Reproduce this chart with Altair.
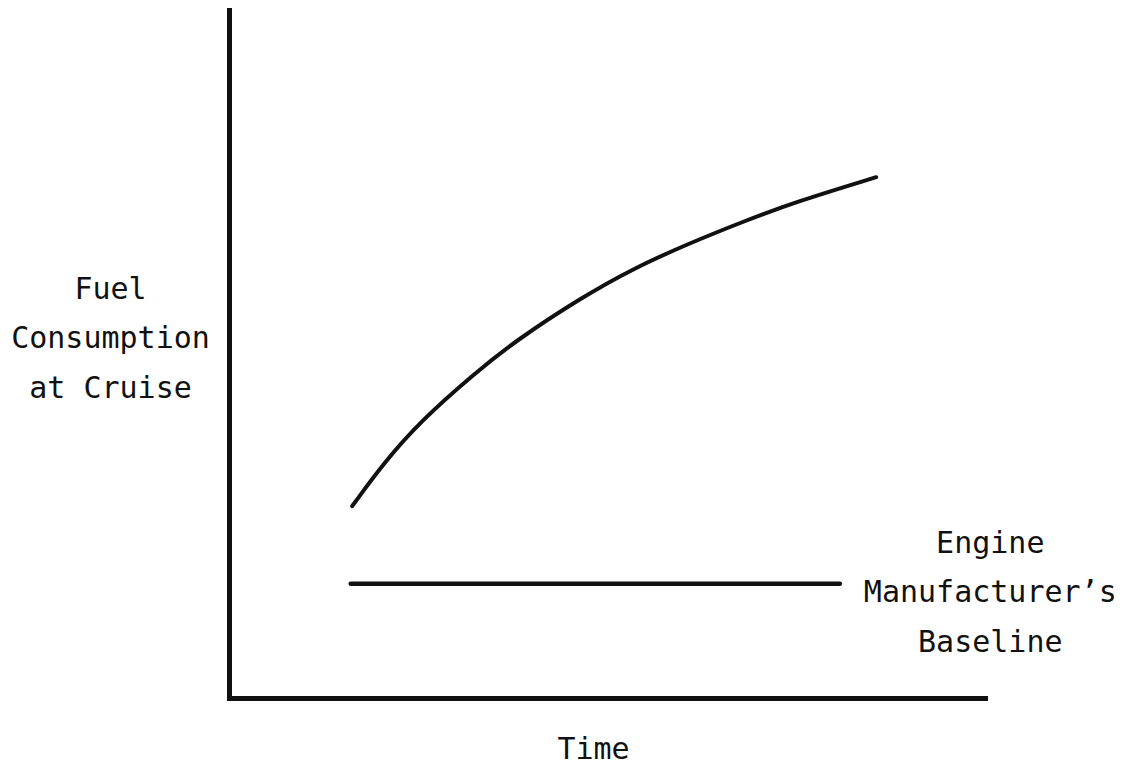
import altair as alt
import pandas as pd

# Curve: fuel consumption at cruise over time (schematic units 0-100)
curve_time = [16.3, 20.5, 25.3, 32.4, 38.0, 46.6, 53.6, 60.7, 67.9, 74.9, 85.6]
curve_fuel = [27.9, 34.2, 40.2, 47.1, 52.0, 58.2, 62.5, 66.0, 69.2, 72.1, 75.7]

# Engine manufacturer's baseline (flat)
baseline_time = [16.1, 80.8]
baseline_fuel = [16.6, 16.6]

# Annotation label
label_text = ["Engine\nManufacturer\u2019s\nBaseline"]
label_time = [100.7]
label_fuel = [21.1]

FONT = "DejaVu Sans Mono"
INK = "#111111"

curve_df = pd.DataFrame({"time": curve_time, "fuel": curve_fuel})
base_df = pd.DataFrame({"time": baseline_time, "fuel": baseline_fuel})
label_df = pd.DataFrame({"time": label_time, "fuel": label_fuel, "text": label_text})

xscale = alt.Scale(domain=[0, 100], nice=False, zero=False)
yscale = alt.Scale(domain=[0, 100], nice=False, zero=False)

xaxis = alt.Axis(
    title="Time", labels=False, ticks=False, grid=False,
    domainColor=INK, domainWidth=5, domainCap="square",
    titleFont=FONT, titleFontSize=30, titleFontWeight="normal", titleColor=INK,
    titleAngle=0, titleAlign="center", titleBaseline="alphabetic",
    titleX=364, titleY=60,
)
yaxis = alt.Axis(
    title=["Fuel", "Consumption", "at Cruise"], labels=False, ticks=False, grid=False,
    domainColor=INK, domainWidth=5, domainCap="square",
    titleFont=FONT, titleFontSize=30, titleFontWeight="normal", titleColor=INK,
    titleAngle=0, titleAlign="center", titleBaseline="alphabetic",
    titleLineHeight=49.5, titleX=-119, titleY=288,
)

curve = alt.Chart(curve_df).mark_line(
    color=INK, strokeWidth=4, strokeCap="round", interpolate="basis"
).encode(
    x=alt.X("time:Q", scale=xscale, axis=xaxis),
    y=alt.Y("fuel:Q", scale=yscale, axis=yaxis),
)

base = alt.Chart(base_df).mark_line(
    color=INK, strokeWidth=4.5, strokeCap="round"
).encode(
    x=alt.X("time:Q", scale=xscale),
    y=alt.Y("fuel:Q", scale=yscale),
)

label = alt.Chart(label_df).mark_text(
    font=FONT, fontSize=30, color=INK, align="center", baseline="alphabetic",
    lineBreak="\n", lineHeight=49.5, clip=False,
).encode(
    x=alt.X("time:Q", scale=xscale),
    y=alt.Y("fuel:Q", scale=yscale),
    text="text:N",
)

chart = alt.layer(curve, base, label).properties(
    width=756, height=688,
    autosize=alt.AutoSizeParams(type="none"),
    padding={"left": 221, "top": 2, "right": 138, "bottom": 67},
    background="white",
).configure_view(stroke=None)

chart.save("out.html", embed_options={"renderer": "svg", "actions": False})
